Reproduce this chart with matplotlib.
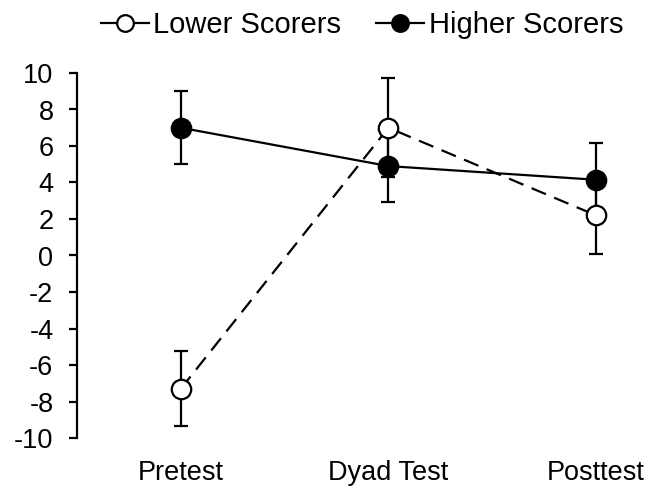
import matplotlib
matplotlib.use("Agg")
import matplotlib.pyplot as plt
from matplotlib.lines import Line2D

plt.rcParams["font.family"] = ["Liberation Sans", "DejaVu Sans"]
plt.rcParams["axes.unicode_minus"] = False

phases = ["Pretest", "Dyad Test", "Posttest"]
lower_mean = [-7.3, 7.0, 2.2]
lower_err = [2.05, 2.7, 2.1]
higher_mean = [7.0, 4.9, 4.15]
higher_err = [2.0, 1.95, 2.0]

fig = plt.figure(figsize=(6.51, 4.90), dpi=100)
ax = fig.add_axes([77 / 651, 52 / 490, 573 / 651, 365 / 490])
x = list(range(len(phases)))

# error bars and connecting lines first, markers on top so bars don't show through
bar_kw = dict(color="black", lw=1.6, ecolor="black", elinewidth=1.6,
              capsize=5, capthick=1.6, marker="none")
ax.errorbar(x, lower_mean, yerr=lower_err, ls=(0, (7, 4)), zorder=2, **bar_kw)
ax.errorbar(x, higher_mean, yerr=higher_err, ls="-", zorder=2, **bar_kw)
ax.plot(x, lower_mean, ls="none", marker="o", ms=14, mfc="white", mec="black",
        mew=1.6, zorder=3)
ax.plot(x, higher_mean, ls="none", marker="o", ms=14, mfc="black", mec="black",
        mew=1.6, zorder=4)

ax.set_ylim(-10, 10)
ax.set_yticks(range(-10, 11, 2))
ax.set_xlim(-0.5, 2.26)
ax.set_xticks(x)
ax.set_xticklabels(phases)
for s in ("top", "right", "bottom"):
    ax.spines[s].set_visible(False)
ax.spines["left"].set_linewidth(1.6)
ax.tick_params(axis="y", labelsize=19.5, width=1.6, length=6, pad=11)
ax.tick_params(axis="x", labelsize=19.5, length=0, pad=16)

handles = [Line2D([0], [0], color="black", lw=1.6, marker="o", ms=12, mfc="white",
                  mec="black", mew=1.6, label="Lower Scorers"),
           Line2D([0], [0], color="black", lw=1.6, marker="o", ms=12, mfc="black",
                  mec="black", mew=1.6, label="Higher Scorers")]
fig.legend(handles=handles, loc="center", bbox_to_anchor=(0.556, 0.949), ncol=2,
           frameon=False, fontsize=21, handlelength=1.65,
           handletextpad=0.15, columnspacing=1.2)

fig.savefig("out.png", dpi=100)
